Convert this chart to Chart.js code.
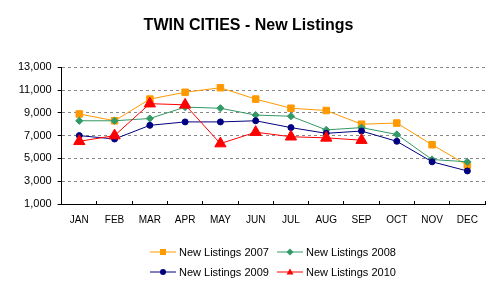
<!DOCTYPE html>
<html><head><meta charset="utf-8">
<script src="https://cdn.jsdelivr.net/npm/chart.js@4"></script>
<style>
html,body{margin:0;padding:0;background:#fff;}
#wrap{position:relative;width:500px;height:289px;overflow:hidden;}
canvas{position:absolute;left:0;top:0;}
.leg{position:absolute;font:11px "Liberation Sans",Arial,sans-serif;color:#000;display:flex;align-items:center;height:14px;white-space:nowrap;}
.leg svg{margin-right:3px;display:block}
</style></head><body>
<div id="wrap"><canvas id="c" width="500" height="289"></canvas><div id="legend"></div></div>
<script>
const categories = ['JAN','FEB','MAR','APR','MAY','JUN','JUL','AUG','SEP','OCT','NOV','DEC'];
const listings2007 = [8900, 8300, 10200, 10800, 11200, 10200, 9400, 9200, 8000, 8100, 6200, 4400];
const listings2008 = [8300, 8300, 8500, 9500, 9400, 8800, 8700, 7500, 7700, 7100, 4900, 4700];
const listings2009 = [7000, 6700, 7900, 8200, 8200, 8300, 7700, 7200, 7400, 6500, 4700, 3900];
const listings2010 = [6500, 7000, 9800, 9700, 6300, 7300, 6900, 6800, 6600, null, null, null];
const seriesNames = ['New Listings 2007','New Listings 2008','New Listings 2009','New Listings 2010'];
const yTicks = [1000, 3000, 5000, 7000, 9000, 11000, 13000];

const FONT = '"Liberation Sans", Arial, sans-serif';
const colors = ['#FF9900', '#339966', '#000080', '#FF0000'];
const styles = ['rect', 'rectRot', 'circle', 'triangle'];
const radii = [4.6, 3.6, 3, 6.5];
const seriesData = [listings2007, listings2008, listings2009, listings2010];

const datasets = seriesData.map((d, i) => ({
  label: seriesNames[i],
  data: d,
  borderColor: colors[i],
  backgroundColor: colors[i],
  pointBackgroundColor: colors[i],
  pointBorderColor: colors[i],
  pointStyle: styles[i],
  pointRadius: radii[i],
  pointBorderWidth: 1,
  borderWidth: 1,
  tension: 0,
  spanGaps: false,
  order: 3 - i
}));

new Chart(document.getElementById('c'), {
  type: 'line',
  data: { labels: categories, datasets },
  options: {
    responsive: false,
    animation: false,
    devicePixelRatio: 1,
    layout: { padding: { left: 12, right: 15, top: 0, bottom: 50 } },
    plugins: {
      legend: { display: false },
      tooltip: { enabled: false },
      title: {
        display: true,
        text: 'TWIN CITIES - New Listings',
        color: '#000',
        font: { family: FONT, size: 16, weight: 'bold' },
        padding: { top: 16, bottom: 32 }
      }
    },
    scales: {
      x: {
        type: 'category',
        offset: true,
        grid: { offset: true, drawOnChartArea: false, drawTicks: true, tickLength: -3, color: '#000' },
        border: { display: true, color: '#000', width: 1 },
        ticks: { color: '#000', font: { family: FONT, size: 10 }, padding: 13, maxRotation: 0, autoSkip: false }
      },
      y: {
        min: yTicks[0],
        max: yTicks[yTicks.length - 1],
        afterBuildTicks: (axis) => { axis.ticks = yTicks.map(v => ({ value: v })); },
        grid: { color: '#888', tickColor: '#000', tickLength: 4, drawTicks: true },
        border: { display: true, color: '#000', width: 1, dash: [3, 3] },
        ticks: {
          color: '#000',
          font: { family: FONT, size: 11 },
          padding: 6,
          callback: (v) => Number(v).toLocaleString('en-US')
        }
      }
    }
  }
});

// HTML legend, 2 columns x 2 rows
const legend = document.getElementById('legend');
const pos = [[150, 245], [277, 245], [150, 265], [277, 265]];
function markerSvg(i) {
  const c = colors[i];
  let m = '';
  if (styles[i] === 'rect') m = `<rect x="10" y="3" width="6" height="6" fill="${c}"/>`;
  else if (styles[i] === 'rectRot') m = `<polygon points="13,2.5 16.5,6 13,9.5 9.5,6" fill="${c}"/>`;
  else if (styles[i] === 'circle') m = `<circle cx="13" cy="6" r="3" fill="${c}"/>`;
  else m = `<polygon points="13,2.5 16.5,8.5 9.5,8.5" fill="${c}"/>`;
  return `<svg width="26" height="12" viewBox="0 0 26 12"><line x1="0" y1="6" x2="26" y2="6" stroke="${c}" stroke-width="1"/>${m}</svg>`;
}
seriesNames.forEach((name, i) => {
  const d = document.createElement('div');
  d.className = 'leg';
  d.style.left = pos[i][0] + 'px';
  d.style.top = pos[i][1] + 'px';
  d.innerHTML = markerSvg(i) + '<span>' + name + '</span>';
  legend.appendChild(d);
});
</script>
</body></html>
